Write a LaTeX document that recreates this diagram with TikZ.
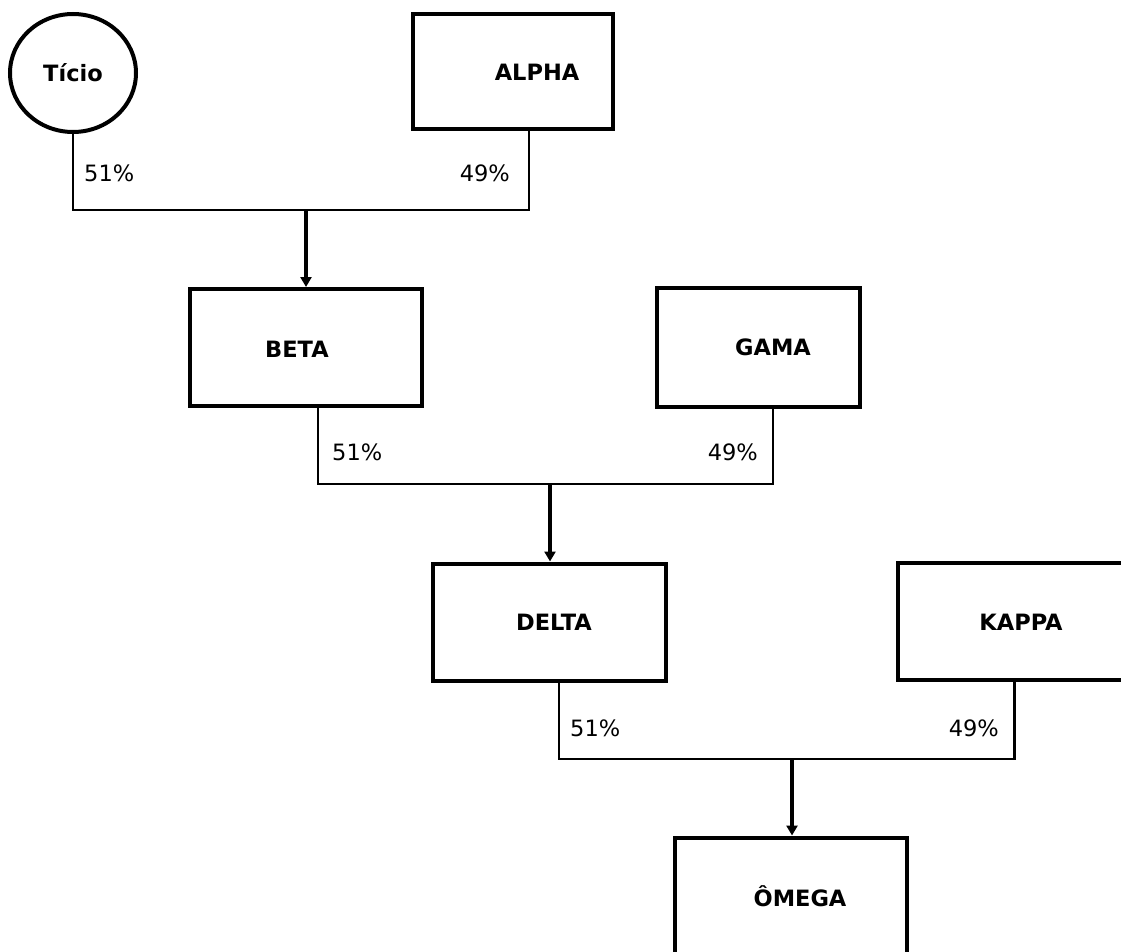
\documentclass[tikz,border=0pt]{standalone}
\usepackage{fontspec}
\setmainfont{DejaVu Sans}
\usetikzlibrary{arrows.meta,shapes.geometric,positioning,calc}

\begin{document}
\begin{tikzpicture}[
    x=1pt, y=-1pt,
    box/.style={rectangle, draw, line width=4pt, minimum width=232pt, minimum height=117pt, inner sep=0pt},
    boxtext/.style={font=\fontsize{22.5}{26}\selectfont\bfseries},
    pct/.style={font=\fontsize{22.5}{26}\selectfont, inner sep=0pt},
    link/.style={line width=2.4pt},
    arrow/.style={-{Triangle[length=10pt,width=11pt]}, line width=3.2pt}
]
\useasboundingbox (0,0) rectangle (1121,952);
\clip (0,0) rectangle (1121,952);

% Draw owners and companies
\node[ellipse, draw, line width=4pt, minimum width=126pt, minimum height=118pt, inner sep=0pt, boxtext] (ticio) at (73,73) {Tício};
\node[box, minimum width=200pt, minimum height=115pt, label={[boxtext, xshift=24pt]center:ALPHA}] (alpha) at (513,72) {};

\node[box, label={[boxtext, xshift=-9pt, yshift=-1.5pt]center:BETA}] (beta) at (306,347.5) {};
\node[box, minimum width=203pt, minimum height=119pt, label={[boxtext, xshift=14.5pt]center:GAMA}] (gama) at (758.5,347) {};

\node[box, minimum width=233pt, label={[boxtext, xshift=4.5pt]center:DELTA}] (delta) at (549.5,622) {};
\node[box, minimum width=233pt, label={[boxtext, xshift=6.5pt, yshift=-1pt]center:KAPPA}] (kappa) at (1014.5,621.5) {};

\node[box, label={[boxtext, xshift=9pt]center:ÔMEGA}] (omega) at (791,896) {};

% Draw junctions
\coordinate (j1) at (306,210);
\coordinate (j2) at (550,484);
\coordinate (j3) at (792,759);

% Draw connectors
\draw[link] (ticio.south) |- (j1) -| ([xshift=16pt]alpha.south);
\draw[arrow] (j1) -- (j1 |- beta.north);

\draw[link] ([xshift=12pt]beta.south) |- (j2) -| ([xshift=14.5pt]gama.south);
\draw[arrow] (j2) -- (j2 |- delta.north);

\draw[link] ([xshift=9.5pt]delta.south) |- (j3) -| (kappa.south);
\draw[arrow] (j3) -- (j3 |- omega.north);

% Draw shares
\node[pct, anchor=west] (pct-ticio) at (84,173) {51\%};
\node[pct, anchor=east] (pct-alpha) at (510,173) {49\%};
\node[pct, anchor=west] (pct-beta) at (332,452) {51\%};
\node[pct, anchor=east] (pct-gama) at (758,452) {49\%};
\node[pct, anchor=west] (pct-delta) at (570,728) {51\%};
\node[pct, anchor=east] (pct-kappa) at (999,728) {49\%};

\end{tikzpicture}
\end{document}
